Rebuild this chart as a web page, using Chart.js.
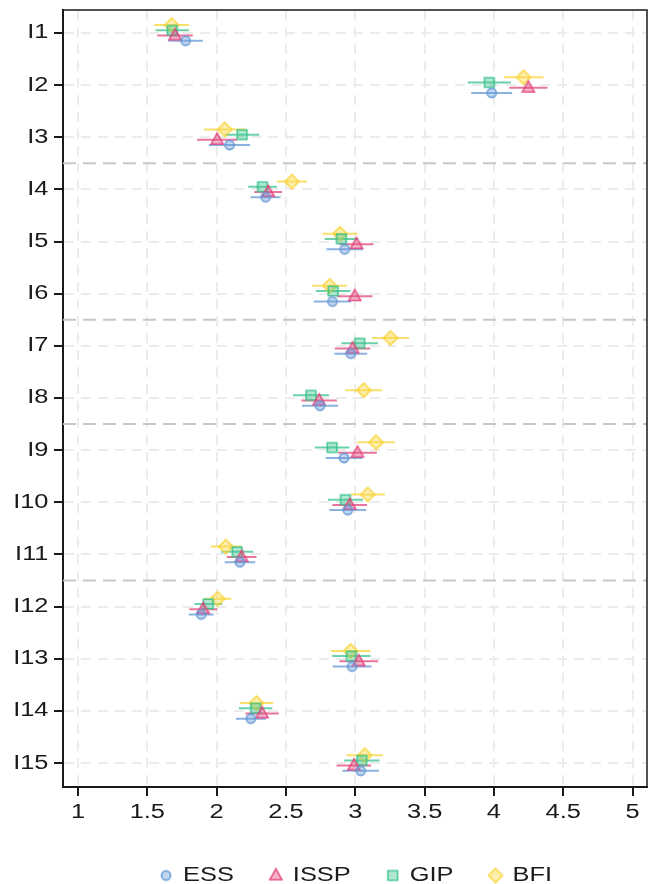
<!DOCTYPE html>
<html>
<head>
<meta charset="utf-8">
<title>Item means by survey</title>
<script src="https://cdn.jsdelivr.net/npm/chart.js@4.4.1/dist/chart.umd.min.js"></script>
<style>
  html, body { margin: 0; padding: 0; background: #fff; }
  #wrap { width: 652px; height: 884px; }
</style>
</head>
<body>
<div id="wrap"><canvas id="grafico"></canvas></div>
<script>
const items = ["I1", "I2", "I3", "I4", "I5", "I6", "I7", "I8", "I9", "I10", "I11", "I12", "I13", "I14", "I15"];
const surveys = ["ESS", "ISSP", "GIP", "BFI"];
const groupBreaks = [3.5, 6.5, 8.5, 11.5];

const essMean  = [1.776, 3.984, 2.093, 2.353, 2.924, 2.835, 2.968, 2.746, 2.919, 2.946, 2.168, 1.889, 2.977, 2.247, 3.039];
const essErr   = [0.125, 0.148, 0.149, 0.108, 0.132, 0.135, 0.118, 0.130, 0.132, 0.133, 0.110, 0.090, 0.140, 0.108, 0.132];
const isspMean = [1.700, 4.248, 2.004, 2.372, 3.009, 2.996, 2.980, 2.739, 3.016, 2.960, 2.180, 1.903, 3.025, 2.328, 2.990];
const isspErr  = [0.128, 0.138, 0.144, 0.100, 0.122, 0.128, 0.128, 0.128, 0.140, 0.125, 0.107, 0.100, 0.140, 0.120, 0.125];
const gipMean  = [1.680, 3.967, 2.184, 2.331, 2.900, 2.840, 3.032, 2.681, 2.833, 2.929, 2.148, 1.940, 2.972, 2.281, 3.047];
const gipErr   = [0.120, 0.156, 0.124, 0.104, 0.120, 0.124, 0.132, 0.130, 0.125, 0.126, 0.116, 0.100, 0.139, 0.120, 0.127];
const bfiMean  = [1.675, 4.214, 2.059, 2.542, 2.890, 2.816, 3.254, 3.061, 3.150, 3.090, 2.067, 2.007, 2.967, 2.288, 3.068];
const bfiErr   = [0.125, 0.143, 0.150, 0.108, 0.124, 0.126, 0.135, 0.133, 0.137, 0.124, 0.110, 0.100, 0.142, 0.120, 0.131];

const series = [
  { name: "ESS",  mean: essMean,  err: essErr },
  { name: "ISSP", mean: isspMean, err: isspErr },
  { name: "GIP",  mean: gipMean,  err: gipErr },
  { name: "BFI",  mean: bfiMean,  err: bfiErr }
];

// cor, forma e deslocamento vertical de cada pesquisa
const estilo = {
  ESS:  { rgb: "100,152,214", shape: "circle",   offset: 0.15 },
  ISSP: { rgb: "226,69,124",  shape: "triangle", offset: 0.05 },
  GIP:  { rgb: "58,194,140",  shape: "square",   offset: -0.05 },
  BFI:  { rgb: "250,212,58",  shape: "diamond",  offset: -0.15 }
};

const fonte = { family: "'Liberation Sans', Arial, sans-serif", size: 20 };
const corTexto = "#1a1a1a";

function marker(shape, rgb) {
  const c = document.createElement("canvas");
  c.width = c.height = 20;
  const g = c.getContext("2d");
  g.translate(10, 10);
  g.beginPath();
  if (shape === "circle") {
    g.arc(0, 0, 4.6, 0, Math.PI * 2);
  } else if (shape === "triangle") {
    g.moveTo(0, -6.6); g.lineTo(6, 4.2); g.lineTo(-6, 4.2); g.closePath();
  } else if (shape === "square") {
    g.rect(-4.8, -4.8, 9.6, 9.6);
  } else {
    g.moveTo(0, -7); g.lineTo(7, 0); g.lineTo(0, 7); g.lineTo(-7, 0); g.closePath();
  }
  g.fillStyle = `rgba(${rgb},0.4)`;
  g.fill();
  g.lineWidth = 1.6;
  g.strokeStyle = `rgba(${rgb},0.9)`;
  g.stroke();
  return c;
}

const datasets = [];
series.forEach((s) => {
  const st = estilo[s.name];
  datasets.push({
    label: s.name,
    data: s.mean.map((m, i) => ({ x: m, y: i + 1 + st.offset })),
    pointStyle: marker(st.shape, st.rgb),
    pointRadius: 6,
    order: 0
  });
});
// barras de erro: um segmento por item, separados por pontos nulos
series.forEach((s) => {
  const st = estilo[s.name];
  const pts = [];
  s.mean.forEach((m, i) => {
    const y = i + 1 + st.offset;
    pts.push({ x: m - s.err[i], y: y }, { x: m + s.err[i], y: y }, { x: m, y: null });
  });
  datasets.push({
    type: "line",
    label: s.name + " erro",
    data: pts,
    borderColor: `rgba(${st.rgb},0.75)`,
    borderWidth: 2,
    pointRadius: 0,
    spanGaps: false,
    fill: false,
    order: 1
  });
});

const separadores = {
  id: "separadores",
  beforeDatasetsDraw(chart) {
    const { ctx, chartArea: a, scales: { y } } = chart;
    ctx.save();
    ctx.strokeStyle = "#c8c8c8";
    ctx.lineWidth = 2;
    ctx.setLineDash([13, 7]);
    groupBreaks.forEach((v) => {
      const py = y.getPixelForValue(v);
      ctx.beginPath();
      ctx.moveTo(a.left, py);
      ctx.lineTo(a.right, py);
      ctx.stroke();
    });
    ctx.restore();
  }
};

const moldura = {
  id: "moldura",
  afterDraw(chart) {
    const { ctx, chartArea: a } = chart;
    ctx.save();
    ctx.strokeStyle = corTexto;
    ctx.lineWidth = 1.5;
    ctx.beginPath();
    ctx.moveTo(a.left, a.top);
    ctx.lineTo(a.right, a.top);
    ctx.lineTo(a.right, a.bottom);
    ctx.stroke();
    ctx.restore();
  }
};

// legenda centrada sob o painel e um pouco mais baixa
const legendaPos = {
  id: "legendaPos",
  afterLayout(chart) {
    const l = chart.legend;
    l.left += 32; l.right += 32;
    l.top += 11.5; l.bottom += 11.5;
  }
};

const canvas = document.getElementById("grafico");
const ctx = canvas.getContext("2d");

// o texto da figura original é mais largo que a Liberation Sans
const ESTICA = 1.27;
const fillOrig = ctx.fillText.bind(ctx);
ctx.fillText = (txt, x, y) => {
  ctx.save();
  ctx.translate(x, y);
  ctx.scale(ESTICA, 1);
  fillOrig(txt, 0, 0);
  ctx.restore();
};
const measureOrig = ctx.measureText.bind(ctx);
ctx.measureText = (txt) => ({ width: measureOrig(txt).width * ESTICA });

function semFolga(s) {
  s.paddingTop = s.paddingBottom = s.paddingLeft = s.paddingRight = 0;
}

const grade = {
  color: "#ececec",
  lineWidth: 2,
  tickLength: 9,
  tickColor: corTexto,
  tickWidth: 2
};
const borda = { display: true, color: corTexto, width: 2, dash: [10, 7] };

new Chart(ctx, {
  type: "scatter",
  data: { datasets: datasets },
  options: {
    animation: false,
    responsive: true,
    maintainAspectRatio: false,
    layout: { padding: { top: 10, right: 5, bottom: 0, left: 0 }, autoPadding: false },
    plugins: {
      legend: {
        position: "bottom",
        labels: {
          usePointStyle: true,
          boxWidth: 14,
          boxHeight: 14,
          padding: 35,
          color: corTexto,
          font: fonte,
          filter: (item) => item.datasetIndex < surveys.length
        }
      },
      tooltip: { enabled: false }
    },
    scales: {
      x: {
        type: "linear",
        min: 0.892,
        max: 5.104,
        afterFit: (s) => { s.height = 32; semFolga(s); },
        ticks: {
          stepSize: 0.5,
          includeBounds: false,
          padding: 4,
          maxRotation: 0,
          color: corTexto,
          font: fonte,
          callback: (v) => String(v)
        },
        grid: grade,
        border: borda
      },
      y: {
        type: "linear",
        reverse: true,
        min: 0.56,
        max: 15.46,
        afterFit: (s) => { s.width = 63; semFolga(s); },
        ticks: {
          stepSize: 1,
          includeBounds: false,
          padding: 5.5,
          color: corTexto,
          font: fonte,
          callback: (v) => items[v - 1]
        },
        grid: grade,
        border: borda
      }
    }
  },
  plugins: [separadores, moldura, legendaPos]
});
</script>
</body>
</html>
